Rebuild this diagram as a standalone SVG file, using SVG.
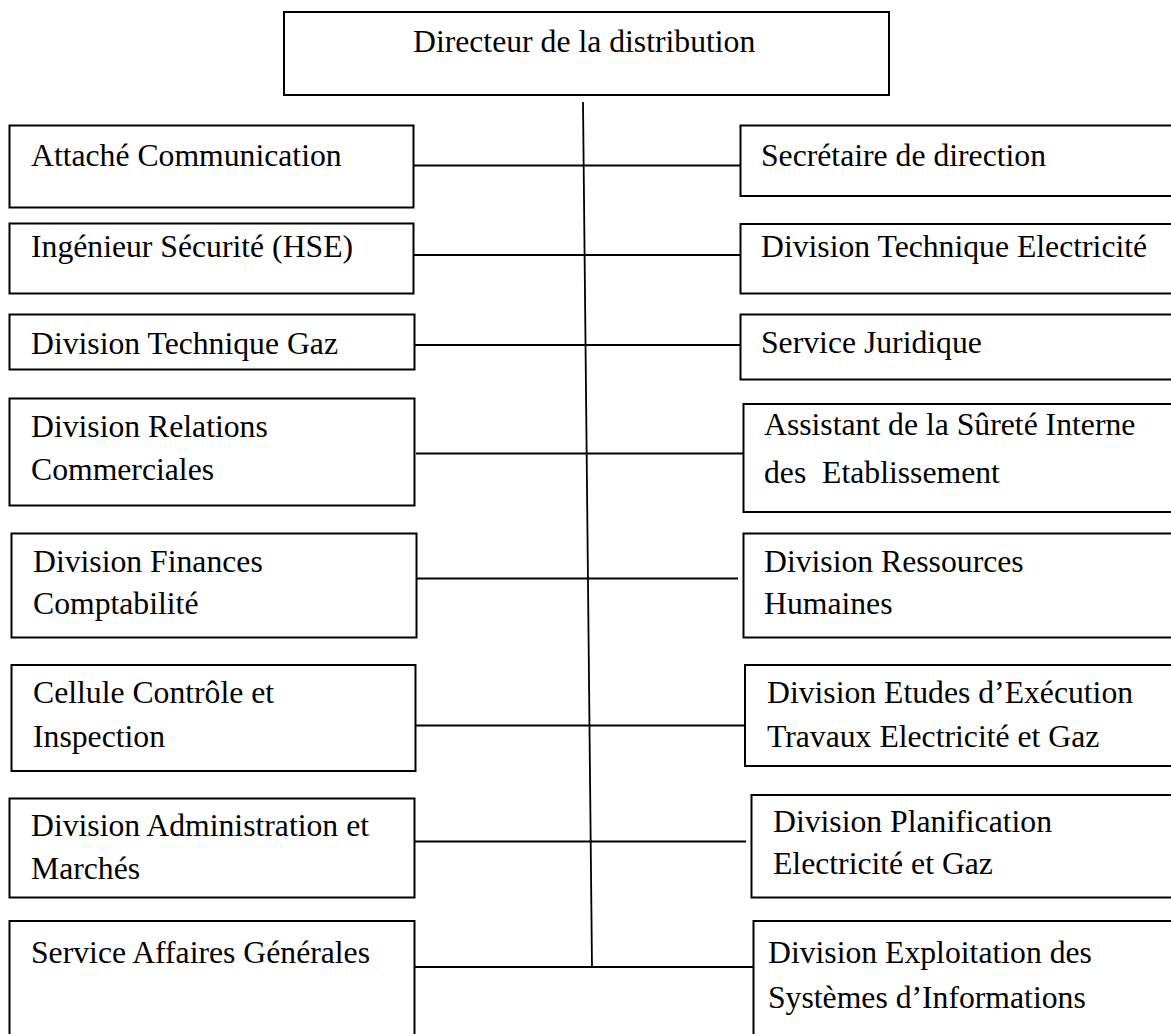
<svg xmlns="http://www.w3.org/2000/svg" width="1171" height="1034" viewBox="0 0 1171 1034">
<style>
.box{fill:#fff;stroke:#000;stroke-width:2}
.t{font-family:"Liberation Serif","Times New Roman",serif;font-size:31.7px;fill:#000}
.c{stroke:#000;stroke-width:1.8;fill:none}
</style>
<rect width="1171" height="1034" fill="#fff"/>
<g id="connectors">
<line class="c" x1="583" y1="102" x2="592" y2="968"/>
<line class="c" x1="414" y1="165.5" x2="740" y2="165.5"/>
<line class="c" x1="414" y1="255" x2="740" y2="255"/>
<line class="c" x1="414" y1="345" x2="740" y2="345"/>
<line class="c" x1="416" y1="453.5" x2="745" y2="453.5"/>
<line class="c" x1="416" y1="578.5" x2="738" y2="578.5"/>
<line class="c" x1="414" y1="725.5" x2="752" y2="725.5"/>
<line class="c" x1="408" y1="841.5" x2="746" y2="841.5"/>
<line class="c" x1="415" y1="967" x2="753" y2="967"/>
</g>
<g id="n-directeur"><rect class="box" x="284" y="12" width="605" height="83"/><text class="t" x="413" y="52">Directeur de la distribution</text></g>
<g id="n-attache"><rect class="box" x="9.5" y="125.5" width="404" height="82"/><text class="t" x="31" y="165.5">Attaché Communication</text></g>
<g id="n-ingenieur"><rect class="box" x="9.5" y="223.5" width="404" height="70"/><text class="t" x="31" y="256.5">Ingénieur Sécurité (HSE)</text></g>
<g id="n-gaz"><rect class="box" x="9.5" y="314.5" width="405" height="55"/><text class="t" x="31" y="354">Division Technique Gaz</text></g>
<g id="n-relations"><rect class="box" x="9.5" y="398.5" width="405" height="107"/><text class="t" x="31" y="437">Division Relations</text><text class="t" x="31" y="480">Commerciales</text></g>
<g id="n-finances"><rect class="box" x="11.5" y="533.5" width="405" height="104"/><text class="t" x="33" y="571.5">Division Finances</text><text class="t" x="33" y="614">Comptabilité</text></g>
<g id="n-cellule"><rect class="box" x="11.5" y="665" width="404" height="106"/><text class="t" x="33" y="703">Cellule Contrôle et</text><text class="t" x="33" y="746.5">Inspection</text></g>
<g id="n-administration"><rect class="box" x="9.5" y="798.5" width="405" height="99"/><text class="t" x="31" y="836">Division Administration et</text><text class="t" x="31" y="879">Marchés</text></g>
<g id="n-affaires"><rect class="box" x="9.5" y="921" width="405" height="130"/><text class="t" x="31" y="963">Service Affaires Générales</text></g>
<g id="n-secretaire"><rect class="box" x="740.5" y="125.5" width="440" height="70.5"/><text class="t" x="761" y="165.5">Secrétaire de direction</text></g>
<g id="n-electricite"><rect class="box" x="740.5" y="224" width="440" height="69.5"/><text class="t" x="761" y="256.5">Division Technique Electricité</text></g>
<g id="n-juridique"><rect class="box" x="740.5" y="314.5" width="440" height="65"/><text class="t" x="761" y="353">Service Juridique</text></g>
<g id="n-surete"><rect class="box" x="743.5" y="404" width="440" height="108"/><text class="t" x="764" y="435">Assistant de la Sûreté Interne</text><text class="t" x="764" y="483" xml:space="preserve">des  Etablissement</text></g>
<g id="n-rh"><rect class="box" x="743.5" y="533.5" width="440" height="104"/><text class="t" x="764" y="571.5">Division Ressources</text><text class="t" x="764" y="614">Humaines</text></g>
<g id="n-etudes"><rect class="box" x="745" y="665" width="440" height="101"/><text class="t" x="767" y="703">Division Etudes d’Exécution</text><text class="t" x="767" y="746.5">Travaux Electricité et Gaz</text></g>
<g id="n-planification"><rect class="box" x="751.5" y="795" width="440" height="102.5"/><text class="t" x="773" y="832">Division Planification</text><text class="t" x="773" y="874">Electricité et Gaz</text></g>
<g id="n-exploitation"><rect class="box" x="753.5" y="921" width="440" height="130"/><text class="t" x="768" y="963">Division Exploitation des</text><text class="t" x="768" y="1008">Systèmes d’Informations</text></g>
</svg>
